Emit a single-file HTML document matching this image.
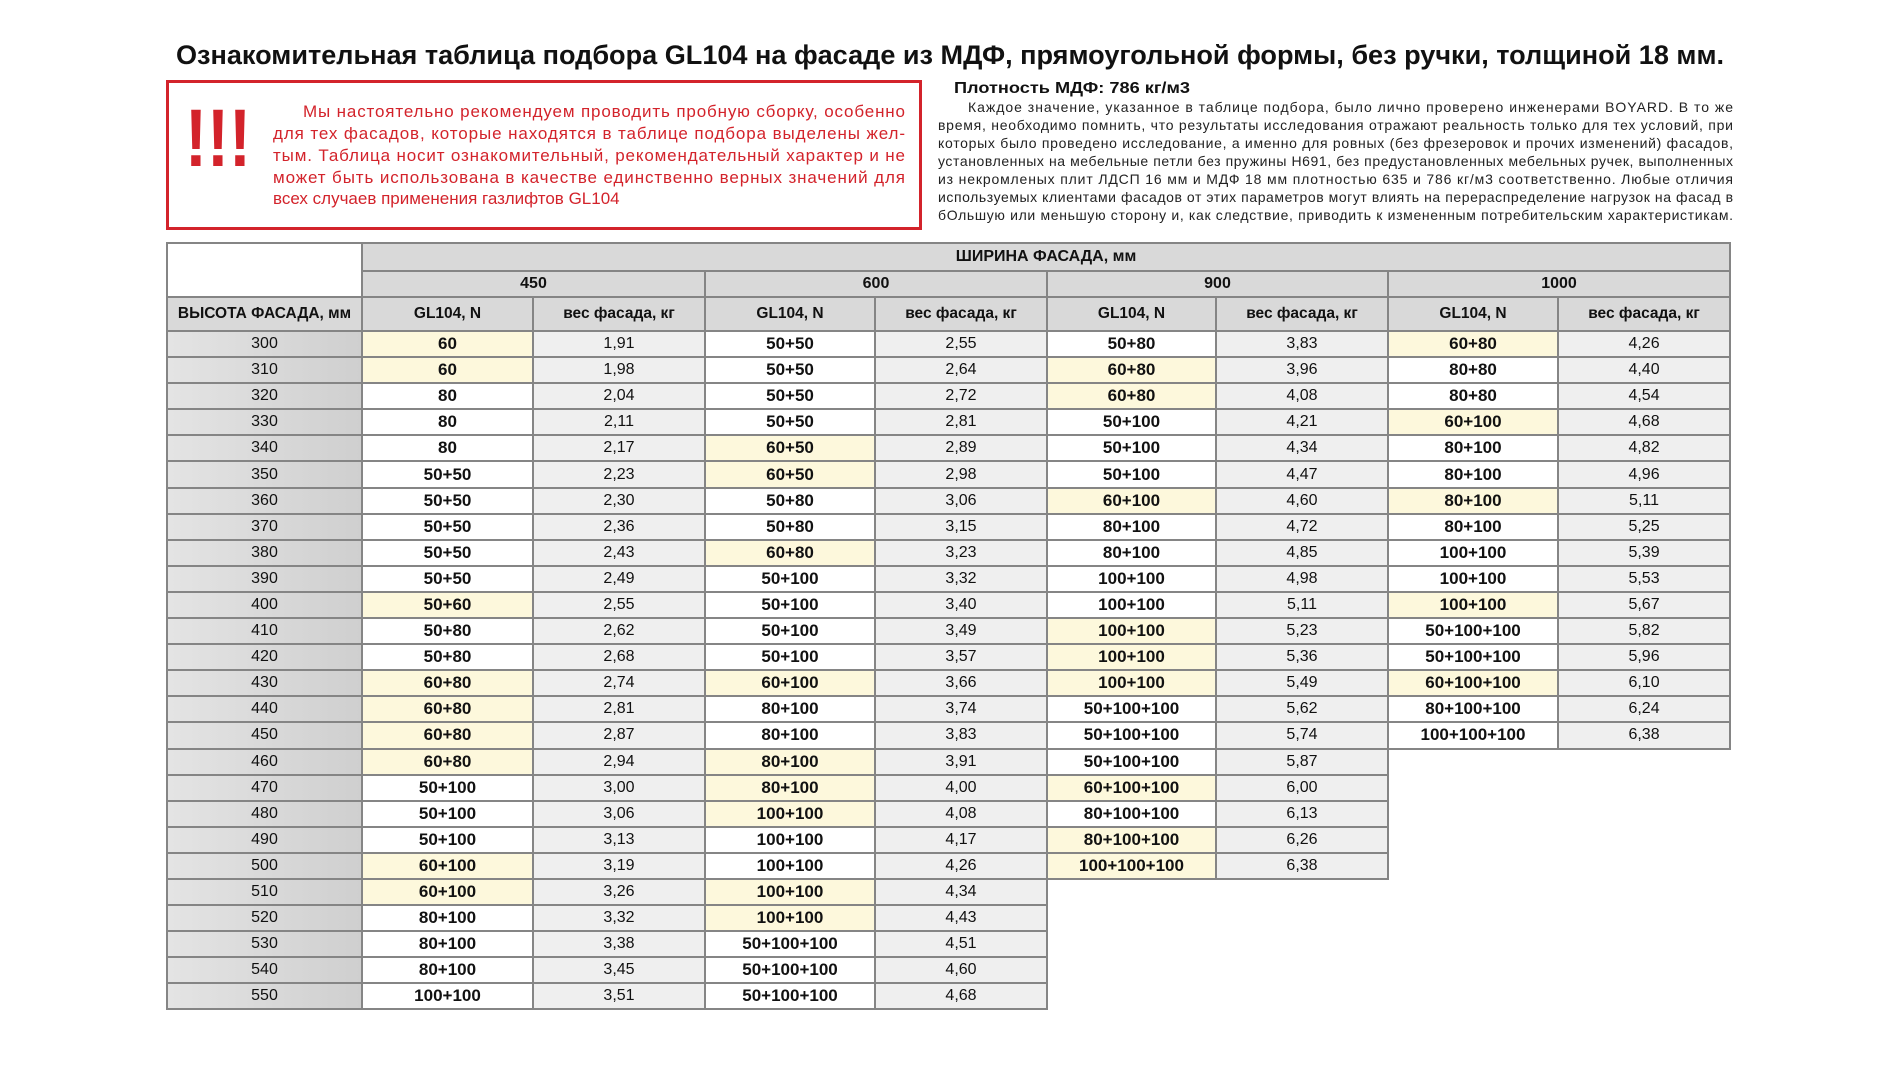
<!DOCTYPE html>
<html><head><meta charset="utf-8"><style>
html,body{margin:0;padding:0;background:#fff;width:1900px;height:1067px;overflow:hidden;position:relative;font-family:"Liberation Sans","DejaVu Sans",sans-serif;}
svg.t{position:absolute;left:0;top:0;}
table{position:absolute;left:166px;top:242px;border-collapse:collapse;table-layout:fixed;width:1563px;}
td{border:2px solid #858585;text-align:center;padding:0;font-size:16px;color:#111;white-space:nowrap;overflow:hidden;}
tr.h1 td{height:26px;} tr.h2 td{height:24px;} tr.h3 td{height:32px;font-weight:bold;font-size:15.5px;}
tr.d td{height:24.1px;}
.g{background:#d9d9d9;font-weight:bold;}
.hc{background:linear-gradient(90deg,#e4e4e4,#cfcfcf);font-weight:normal;}
.n{background:#fff;font-weight:bold;font-size:17px;}
.y{background:#fdf8dc;font-weight:bold;font-size:17px;}
.w{background:#efefef;border-left:1px solid #b5b5b5;}
.e{border:none;background:#fff;}
</style></head><body>
<svg class="t" width="1900" height="240" xmlns="http://www.w3.org/2000/svg">
<text x="176" y="64" font-family="Liberation Sans, sans-serif" font-weight="bold" font-size="27" fill="#111" textLength="1548" lengthAdjust="spacingAndGlyphs">Ознакомительная таблица подбора GL104 на фасаде из МДФ, прямоугольной формы, без ручки, толщиной 18 мм.</text>
<rect x="167.5" y="81.5" width="753" height="147" fill="none" stroke="#d3232b" stroke-width="3"/>
<text x="185" y="166" font-family="Liberation Sans, sans-serif" font-weight="bold" font-size="82" fill="#d3232b" textLength="66" lengthAdjust="spacingAndGlyphs">!!!</text>
<g font-family="Liberation Sans, sans-serif" font-size="17" fill="#d3232b" lengthAdjust="spacing">
<text x="303" y="117" textLength="602">Мы настоятельно рекомендуем проводить пробную сборку, особенно</text>
<text x="273" y="139" textLength="632">для тех фасадов, которые находятся в таблице подбора выделены жел-</text>
<text x="273" y="161" textLength="632">тым. Таблица носит ознакомительный, рекомендательный характер и не</text>
<text x="273" y="183" textLength="632">может быть использована в качестве единственно верных значений для</text>
<text x="273" y="204">всех случаев применения газлифтов GL104</text>
</g>
<text x="954" y="93" font-family="Liberation Sans, sans-serif" font-weight="bold" font-size="16" fill="#111" textLength="236" lengthAdjust="spacingAndGlyphs">Плотность МДФ: 786 кг/м3</text>
<g font-family="Liberation Sans, sans-serif" font-size="14" fill="#222" lengthAdjust="spacingAndGlyphs">
<text x="968" y="112" textLength="765">Каждое значение, указанное в таблице подбора, было лично проверено инженерами BOYARD. В то же</text>
<text x="938" y="130" textLength="795">время, необходимо помнить, что результаты исследования отражают реальность только для тех условий, при</text>
<text x="938" y="148" textLength="795">которых было проведено исследование, а именно для ровных (без фрезеровок и прочих изменений) фасадов,</text>
<text x="938" y="166" textLength="795">установленных на мебельные петли без пружины H691, без предустановленных мебельных ручек, выполненных</text>
<text x="938" y="184" textLength="795">из некромленых плит ЛДСП 16 мм и МДФ 18 мм плотностью 635 и 786 кг/м3 соответственно. Любые отличия</text>
<text x="938" y="202" textLength="795">используемых клиентами фасадов от этих параметров могут влиять на перераспределение нагрузок на фасад в</text>
<text x="938" y="220" textLength="795">бОльшую или меньшую сторону и, как следствие, приводить к измененным потребительским характеристикам.</text>
</g>
</svg>
<table>
<colgroup><col style="width:195px"><col style="width:171px"><col style="width:172px"><col style="width:170px"><col style="width:172px"><col style="width:169px"><col style="width:172px"><col style="width:170px"><col style="width:172px"></colgroup>
<tr class="h1"><td rowspan="2" style="background:#fff"></td><td colspan="8" class="g">ШИРИНА ФАСАДА, мм</td></tr>
<tr class="h2"><td colspan="2" class="g">450</td><td colspan="2" class="g">600</td><td colspan="2" class="g">900</td><td colspan="2" class="g">1000</td></tr>
<tr class="h3"><td class="g">ВЫСОТА ФАСАДА, мм</td><td class="g">GL104, N</td><td class="g">вес фасада, кг</td><td class="g">GL104, N</td><td class="g">вес фасада, кг</td><td class="g">GL104, N</td><td class="g">вес фасада, кг</td><td class="g">GL104, N</td><td class="g">вес фасада, кг</td></tr>
<tr class="d"><td class="hc">300</td><td class="y">60</td><td class="w">1,91</td><td class="n">50+50</td><td class="w">2,55</td><td class="n">50+80</td><td class="w">3,83</td><td class="y">60+80</td><td class="w">4,26</td></tr>
<tr class="d"><td class="hc">310</td><td class="y">60</td><td class="w">1,98</td><td class="n">50+50</td><td class="w">2,64</td><td class="y">60+80</td><td class="w">3,96</td><td class="n">80+80</td><td class="w">4,40</td></tr>
<tr class="d"><td class="hc">320</td><td class="n">80</td><td class="w">2,04</td><td class="n">50+50</td><td class="w">2,72</td><td class="y">60+80</td><td class="w">4,08</td><td class="n">80+80</td><td class="w">4,54</td></tr>
<tr class="d"><td class="hc">330</td><td class="n">80</td><td class="w">2,11</td><td class="n">50+50</td><td class="w">2,81</td><td class="n">50+100</td><td class="w">4,21</td><td class="y">60+100</td><td class="w">4,68</td></tr>
<tr class="d"><td class="hc">340</td><td class="n">80</td><td class="w">2,17</td><td class="y">60+50</td><td class="w">2,89</td><td class="n">50+100</td><td class="w">4,34</td><td class="n">80+100</td><td class="w">4,82</td></tr>
<tr class="d"><td class="hc">350</td><td class="n">50+50</td><td class="w">2,23</td><td class="y">60+50</td><td class="w">2,98</td><td class="n">50+100</td><td class="w">4,47</td><td class="n">80+100</td><td class="w">4,96</td></tr>
<tr class="d"><td class="hc">360</td><td class="n">50+50</td><td class="w">2,30</td><td class="n">50+80</td><td class="w">3,06</td><td class="y">60+100</td><td class="w">4,60</td><td class="y">80+100</td><td class="w">5,11</td></tr>
<tr class="d"><td class="hc">370</td><td class="n">50+50</td><td class="w">2,36</td><td class="n">50+80</td><td class="w">3,15</td><td class="n">80+100</td><td class="w">4,72</td><td class="n">80+100</td><td class="w">5,25</td></tr>
<tr class="d"><td class="hc">380</td><td class="n">50+50</td><td class="w">2,43</td><td class="y">60+80</td><td class="w">3,23</td><td class="n">80+100</td><td class="w">4,85</td><td class="n">100+100</td><td class="w">5,39</td></tr>
<tr class="d"><td class="hc">390</td><td class="n">50+50</td><td class="w">2,49</td><td class="n">50+100</td><td class="w">3,32</td><td class="n">100+100</td><td class="w">4,98</td><td class="n">100+100</td><td class="w">5,53</td></tr>
<tr class="d"><td class="hc">400</td><td class="y">50+60</td><td class="w">2,55</td><td class="n">50+100</td><td class="w">3,40</td><td class="n">100+100</td><td class="w">5,11</td><td class="y">100+100</td><td class="w">5,67</td></tr>
<tr class="d"><td class="hc">410</td><td class="n">50+80</td><td class="w">2,62</td><td class="n">50+100</td><td class="w">3,49</td><td class="y">100+100</td><td class="w">5,23</td><td class="n">50+100+100</td><td class="w">5,82</td></tr>
<tr class="d"><td class="hc">420</td><td class="n">50+80</td><td class="w">2,68</td><td class="n">50+100</td><td class="w">3,57</td><td class="y">100+100</td><td class="w">5,36</td><td class="n">50+100+100</td><td class="w">5,96</td></tr>
<tr class="d"><td class="hc">430</td><td class="y">60+80</td><td class="w">2,74</td><td class="y">60+100</td><td class="w">3,66</td><td class="y">100+100</td><td class="w">5,49</td><td class="y">60+100+100</td><td class="w">6,10</td></tr>
<tr class="d"><td class="hc">440</td><td class="y">60+80</td><td class="w">2,81</td><td class="n">80+100</td><td class="w">3,74</td><td class="n">50+100+100</td><td class="w">5,62</td><td class="n">80+100+100</td><td class="w">6,24</td></tr>
<tr class="d"><td class="hc">450</td><td class="y">60+80</td><td class="w">2,87</td><td class="n">80+100</td><td class="w">3,83</td><td class="n">50+100+100</td><td class="w">5,74</td><td class="n">100+100+100</td><td class="w">6,38</td></tr>
<tr class="d"><td class="hc">460</td><td class="y">60+80</td><td class="w">2,94</td><td class="y">80+100</td><td class="w">3,91</td><td class="n">50+100+100</td><td class="w">5,87</td><td class="e"></td><td class="e"></td></tr>
<tr class="d"><td class="hc">470</td><td class="n">50+100</td><td class="w">3,00</td><td class="y">80+100</td><td class="w">4,00</td><td class="y">60+100+100</td><td class="w">6,00</td><td class="e"></td><td class="e"></td></tr>
<tr class="d"><td class="hc">480</td><td class="n">50+100</td><td class="w">3,06</td><td class="y">100+100</td><td class="w">4,08</td><td class="n">80+100+100</td><td class="w">6,13</td><td class="e"></td><td class="e"></td></tr>
<tr class="d"><td class="hc">490</td><td class="n">50+100</td><td class="w">3,13</td><td class="n">100+100</td><td class="w">4,17</td><td class="y">80+100+100</td><td class="w">6,26</td><td class="e"></td><td class="e"></td></tr>
<tr class="d"><td class="hc">500</td><td class="y">60+100</td><td class="w">3,19</td><td class="n">100+100</td><td class="w">4,26</td><td class="y">100+100+100</td><td class="w">6,38</td><td class="e"></td><td class="e"></td></tr>
<tr class="d"><td class="hc">510</td><td class="y">60+100</td><td class="w">3,26</td><td class="y">100+100</td><td class="w">4,34</td><td class="e"></td><td class="e"></td><td class="e"></td><td class="e"></td></tr>
<tr class="d"><td class="hc">520</td><td class="n">80+100</td><td class="w">3,32</td><td class="y">100+100</td><td class="w">4,43</td><td class="e"></td><td class="e"></td><td class="e"></td><td class="e"></td></tr>
<tr class="d"><td class="hc">530</td><td class="n">80+100</td><td class="w">3,38</td><td class="n">50+100+100</td><td class="w">4,51</td><td class="e"></td><td class="e"></td><td class="e"></td><td class="e"></td></tr>
<tr class="d"><td class="hc">540</td><td class="n">80+100</td><td class="w">3,45</td><td class="n">50+100+100</td><td class="w">4,60</td><td class="e"></td><td class="e"></td><td class="e"></td><td class="e"></td></tr>
<tr class="d"><td class="hc">550</td><td class="n">100+100</td><td class="w">3,51</td><td class="n">50+100+100</td><td class="w">4,68</td><td class="e"></td><td class="e"></td><td class="e"></td><td class="e"></td></tr>
</table>
</body></html>
